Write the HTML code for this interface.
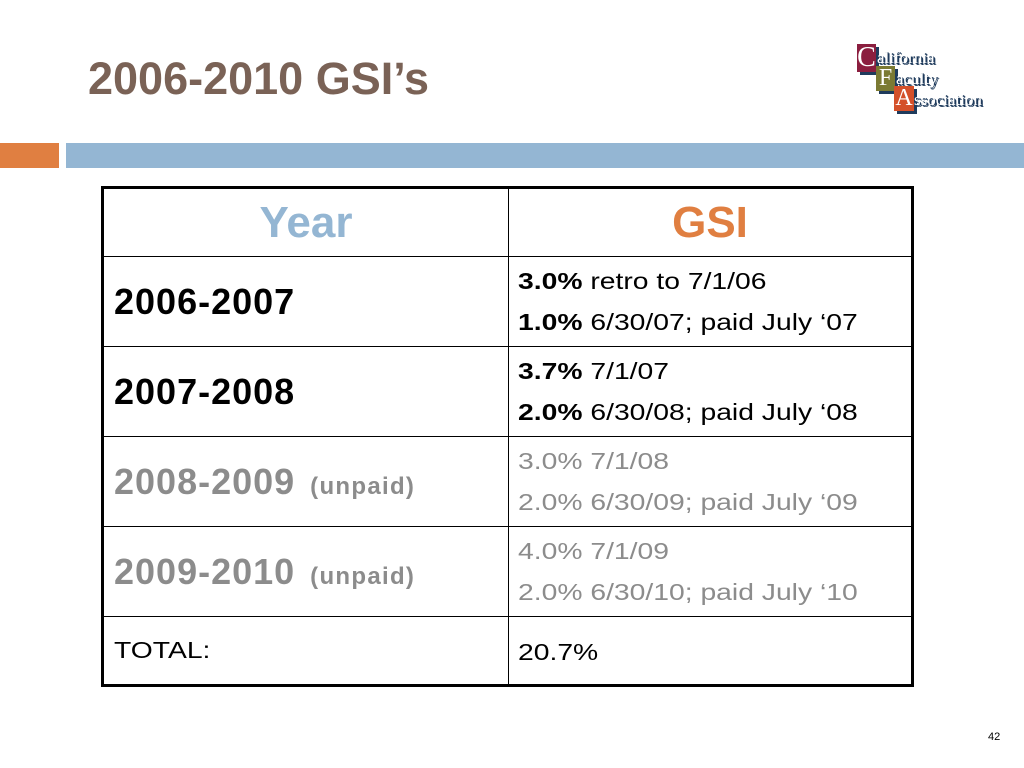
<!DOCTYPE html>
<html><head><meta charset="utf-8"><style>
body{margin:0;width:1024px;height:768px;background:#fff;position:relative;overflow:hidden;font-family:"Liberation Sans",sans-serif}
.a{position:absolute}
table{position:absolute;left:101px;top:186px;width:813px;height:498px;border-collapse:collapse;border:3px solid #000}
td{border:1.5px solid #000;padding:0 0 0 10px;vertical-align:middle}
.b{font-weight:bold}
.y{font-size:36px;letter-spacing:1px;font-weight:bold;padding-left:10px}
.lg{font-size:23px;line-height:41px;color:#000;padding-left:9px}
.s{display:inline-block;transform:scaleX(1.23);transform-origin:0 50%;white-space:nowrap}
.g{color:#8c8c8c}
.u{font-size:24px;letter-spacing:1.3px;margin-left:15px}
.lt{font:17px 'Liberation Serif',serif;color:#fff;text-shadow:1px 1px 0 #1f3b5c,2px 2px 0 #1f3b5c}
</style></head><body>
<div class="a" style="left:88px;top:53px;font-size:45px;font-weight:bold;color:#7a6256">2006-2010 GSI’s</div>
<div class="a" style="left:857px;top:44px;width:130px;height:70px">
<div class="a" style="left:3px;top:3px;width:19px;height:28px;background:#1f3b5c"></div>
<div class="a" style="left:0;top:0;width:19px;height:28px;background:#8b1e3f;color:#fff;font:28px 'Liberation Serif',serif;line-height:28px;text-align:center">C</div>
<div class="a lt" style="left:20px;top:4px">alifornia</div>
<div class="a" style="left:22px;top:25px;width:19px;height:25px;background:#1f3b5c"></div>
<div class="a" style="left:19px;top:22px;width:19px;height:25px;background:#7b7a33;color:#fff;font:24px 'Liberation Serif',serif;line-height:25px;text-align:center">F</div>
<div class="a lt" style="left:39px;top:25px">aculty</div>
<div class="a" style="left:40px;top:45px;width:20px;height:25px;background:#1f3b5c"></div>
<div class="a" style="left:37px;top:42px;width:20px;height:25px;background:#d4502a;color:#fff;font:24px 'Liberation Serif',serif;line-height:25px;text-align:center">A</div>
<div class="a lt" style="left:57px;top:46px">ssociation</div>
</div>
<div class="a" style="left:0;top:143px;width:59px;height:25px;background:#e07f41"></div>
<div class="a" style="left:66px;top:143px;width:958px;height:25px;background:#94b6d3"></div>
<table>
<colgroup><col style="width:406px"><col></colgroup>
<tr style="height:69px"><td style="text-align:center;padding:0;font-size:44px;font-weight:bold;color:#94b6d3">Year</td><td style="text-align:center;padding:0;font-size:44px;font-weight:bold;color:#e07f41">GSI</td></tr>
<tr style="height:90px"><td class="y">2006-2007</td><td class="lg"><span class="s"><span class="b">3.0%</span> retro to 7/1/06</span><br><span class="s"><span class="b">1.0%</span> 6/30/07; paid July ‘07</span></td></tr>
<tr style="height:90px"><td class="y">2007-2008</td><td class="lg"><span class="s"><span class="b">3.7%</span> 7/1/07</span><br><span class="s"><span class="b">2.0%</span> 6/30/08; paid July ‘08</span></td></tr>
<tr style="height:90px"><td class="y g">2008-2009<span class="u">(unpaid)</span></td><td class="lg g"><span class="s">3.0% 7/1/08</span><br><span class="s">2.0% 6/30/09; paid July ‘09</span></td></tr>
<tr style="height:90px"><td class="y g">2009-2010<span class="u">(unpaid)</span></td><td class="lg g"><span class="s">4.0% 7/1/09</span><br><span class="s">2.0% 6/30/10; paid July ‘10</span></td></tr>
<tr style="height:69px"><td style="font-size:23px;vertical-align:top;padding-top:20px"><span class="s">TOTAL:</span></td><td style="font-size:23px;vertical-align:top;padding-top:22px;padding-left:9px"><span class="s">20.7%</span></td></tr>
</table>
<div class="a" style="left:988px;top:731px;font-size:11px">42</div>
</body></html>
